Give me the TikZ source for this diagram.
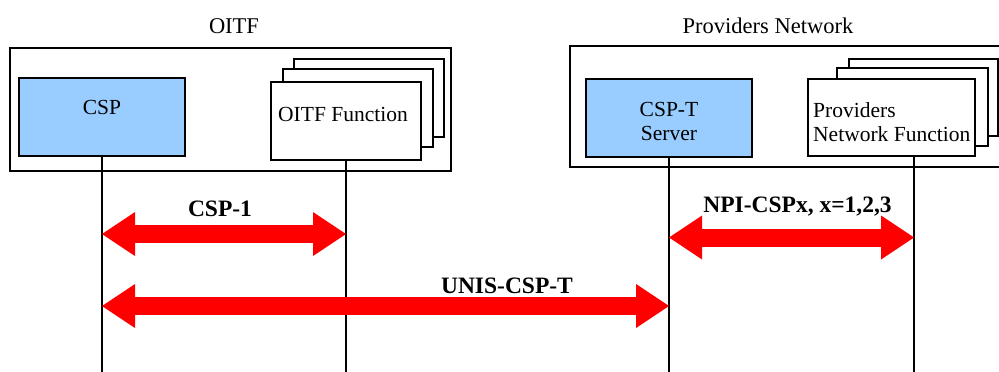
\documentclass[tikz,border=0pt]{standalone}
\usepackage{fontspec}
\setmainfont{Liberation Serif}
\usetikzlibrary{arrows.meta,positioning}

\definecolor{cspblue}{RGB}{153,204,255}
\definecolor{ifred}{RGB}{255,0,0}

\tikzset{
  frame/.style={draw, line width=1.5pt},
  fnbox/.style={draw, line width=1.5pt, fill=white, minimum height=78pt,
    inner sep=0pt, outer sep=0pt},
  bluebox/.style={fnbox, fill=cspblue},
  boxtext/.style={inner sep=0pt, font=\fontsize{21.5}{24}\selectfont},
  title/.style={inner sep=0pt, anchor=base, font=\fontsize{22.5}{26}\selectfont},
  iflabel/.style={inner sep=0pt, anchor=base, font=\fontsize{23.5}{27}\selectfont\bfseries},
  vline/.style={line width=1.5pt},
  biarrow/.style={draw=ifred, line width=18pt,
    {Triangle[length=33pt,width=44pt,line width=0pt]}-{Triangle[length=33pt,width=44pt,line width=0pt]}}
}

\begin{document}
\begin{tikzpicture}[x=1pt,y=-1pt]
    \useasboundingbox (0,0) rectangle (999,372);

    % Outer frames and their titles
    \draw[frame] (10,48) rectangle (451,171);
    \draw[frame] (1001,46) -- (570,46) -- (570,167) -- (1001,167);
    \node[title] (oitflabel) at (234,33) {OITF};
    \node[title] (pnlabel) at (768,33) {Providers Network};

    % CSP box
    \node[bluebox, minimum width=166pt] (csp) at (102,117) {};
    \node[boxtext, below=22pt of csp.north] (csptext) {CSP};

    % OITF function, stacked three deep
    \node[fnbox, minimum width=150pt] (oitff3) at (369,98) {};
    \node[fnbox, minimum width=150pt] (oitff2) at (358,108) {};
    \node[fnbox, minimum width=150pt] (oitff) at (346,121) {};
    \node[boxtext, below=25pt of oitff.north, xshift=-3pt] (oitfftext) {OITF Function};

    % CSP-T server box
    \node[bluebox, minimum width=166pt] (cspt) at (669,118) {};
    \node[boxtext, align=center, below=23pt of cspt.north] (cspttext) {CSP-T\\Server};

    % Providers network function, stacked three deep
    \node[fnbox, minimum width=149pt, minimum height=77pt] (pnf3) at (923.5,97.5) {};
    \node[fnbox, minimum width=151pt] (pnf2) at (912.5,107) {};
    \node[fnbox, minimum width=167pt, minimum height=77pt] (pnf) at (891.5,117.5) {};
    \node[boxtext, align=left, below right=23pt and 5pt of pnf.north west] (pnftext) {Providers\\Network Function};

    % Vertical lines down from each box
    \coordinate (bot) at (0,372);
    \coordinate (pnfport) at ([xshift=22.5pt]pnf.south);
    \draw[vline] (csp.south) -- (csp.south |- bot);
    \draw[vline] (oitff.south) -- (oitff.south |- bot);
    \draw[vline] (cspt.south) -- (cspt.south |- bot);
    \draw[vline] (pnfport) -- (pnfport |- bot);

    % Reference points (big red arrows)
    \coordinate (row1) at (0,234);
    \coordinate (row2) at (0,306);
    \coordinate (row3) at (0,237.5);
    \draw[biarrow] (csp.south |- row1) -- (oitff.south |- row1);
    \draw[biarrow] (csp.south |- row2) -- (cspt.south |- row2);
    \draw[biarrow] (cspt.south |- row3) -- (pnfport |- row3);

    \node[iflabel] (csp1) at (220,216.5) {CSP-1};
    \node[iflabel] (unis) at (507,293) {UNIS-CSP-T};
    \node[iflabel] (npi) at (797.5,212) {NPI-CSPx, x=1,2,3};
\end{tikzpicture}
\end{document}
